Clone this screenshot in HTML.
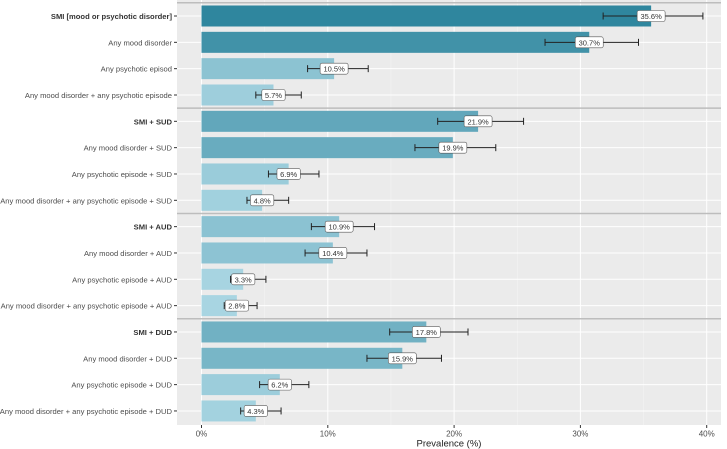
<!DOCTYPE html>
<html><head><meta charset="utf-8"><style>
body{margin:0;background:#fff;}
svg{display:block;font-family:"Liberation Sans",sans-serif;}
</style></head><body>
<svg id="chart" width="727" height="449"></svg>
<script>
const categories=["SMI [mood or psychotic disorder]","Any mood disorder","Any psychotic episod","Any mood disorder + any psychotic episode",
"SMI + SUD","Any mood disorder + SUD","Any psychotic episode + SUD","Any mood disorder + any psychotic episode + SUD",
"SMI + AUD","Any mood disorder + AUD","Any psychotic episode + AUD","Any mood disorder + any psychotic episode + AUD",
"SMI + DUD","Any mood disorder + DUD","Any psychotic episode + DUD","Any mood disorder + any psychotic episode + DUD"];
const boldRows=[0,4,8,12];
const values=[35.6,30.7,10.5,5.7,21.9,19.9,6.9,4.8,10.9,10.4,3.3,2.8,17.8,15.9,6.2,4.3];
const ciLow=[31.8,27.2,8.4,4.3,18.7,16.9,5.3,3.6,8.7,8.2,2.3,1.8,14.9,13.1,4.6,3.1];
const ciHigh=[39.7,34.6,13.2,7.9,25.5,23.3,9.3,6.9,13.7,13.1,5.1,4.4,21.1,19.0,8.5,6.3];
const ticks=[0,10,20,30,40];
const tickLabels=["0%","10%","20%","30%","40%"];

const NS="http://www.w3.org/2000/svg";
const svg=document.getElementById("chart");
const PL=177,PR=721,PT=0,PB=425;
const x=v=>201.5+v*12.63;
const y=i=>16+i*26.33;
function el(tag,attrs,parent){const e=document.createElementNS(NS,tag);for(const k in attrs)e.setAttribute(k,attrs[k]);(parent||svg).appendChild(e);return e;}
function col(v){const t=Math.max(0,Math.min(1,(v-3)/(35.6-3)));
 const a=[168,213,226],b=[47,134,158];
 return "rgb("+a.map((c,i)=>Math.round(c+(b[i]-c)*t)).join(",")+")";}

const panel=el("rect",{x:PL,y:PT,width:PR-PL,height:PB-PT,fill:"#ebebeb"});

for(let i=0;i<ticks.length;i++){
 const m=ticks[i]+5;
 if(m<=43){const g=el("line",{x1:x(m),x2:x(m),y1:PT,y2:PB,stroke:"#f5f5f5","stroke-width":0.5});
 }
 const g2=el("line",{x1:x(ticks[i]),x2:x(ticks[i]),y1:PT,y2:PB,stroke:"#fff","stroke-width":1});
 
 const tk=el("line",{x1:x(ticks[i]),x2:x(ticks[i]),y1:PB,y2:PB+3,stroke:"#333"});
 
 const tl=el("text",{x:x(ticks[i]),y:PB+11.5,"text-anchor":"middle","font-size":8,fill:"#4d4d4d"});
 tl.textContent=tickLabels[i];
 
}
categories.forEach((c,i)=>{
 const gl=el("line",{x1:PL,x2:PR,y1:y(i),y2:y(i),stroke:"#fff","stroke-width":1});
 
});
[0,4,8,12].forEach(r=>{
 const s=el("line",{x1:PL,x2:PR,y1:y(r)-13.2,y2:y(r)-13.2,stroke:"#bdbdbd","stroke-width":1.5});
 
});
categories.forEach((c,i)=>{
 const b=el("rect",{x:x(0),y:y(i)-10.5,width:x(values[i])-x(0),height:21,fill:col(values[i])});
 
 const e=el("g",{stroke:"#222","stroke-width":1});
 
 el("line",{x1:x(ciLow[i]),x2:x(ciHigh[i]),y1:y(i),y2:y(i)},e);
 el("line",{x1:x(ciLow[i]),x2:x(ciLow[i]),y1:y(i)-3.5,y2:y(i)+3.5},e);
 el("line",{x1:x(ciHigh[i]),x2:x(ciHigh[i]),y1:y(i)-3.5,y2:y(i)+3.5},e);
 const txt=values[i].toFixed(1)+"%";
 const w=txt.length*4.6+5;
 const lb=el("rect",{x:x(values[i])-w/2,y:y(i)-5.5,width:w,height:11,rx:2,fill:"#fff",stroke:"#555","stroke-width":0.6});
 
 const lt=el("text",{x:x(values[i]),y:y(i)+3,"text-anchor":"middle","font-size":7.5,fill:"#333"});
 lt.textContent=txt;
 
 const yt=el("line",{x1:PL-3,x2:PL,y1:y(i),y2:y(i),stroke:"#333"});
 
 const cl=el("text",{x:PL-5,y:y(i)+3,"text-anchor":"end","font-size":7.6,fill:boldRows.includes(i)?"#333":"#4d4d4d","font-weight":boldRows.includes(i)?"bold":"normal"});
 cl.textContent=c;
 
});
const xt=el("text",{x:(PL+PR)/2,y:446.5,"text-anchor":"middle","font-size":9.5,fill:"#222"});
xt.textContent="Prevalence (%)";

</script>
</body></html>
